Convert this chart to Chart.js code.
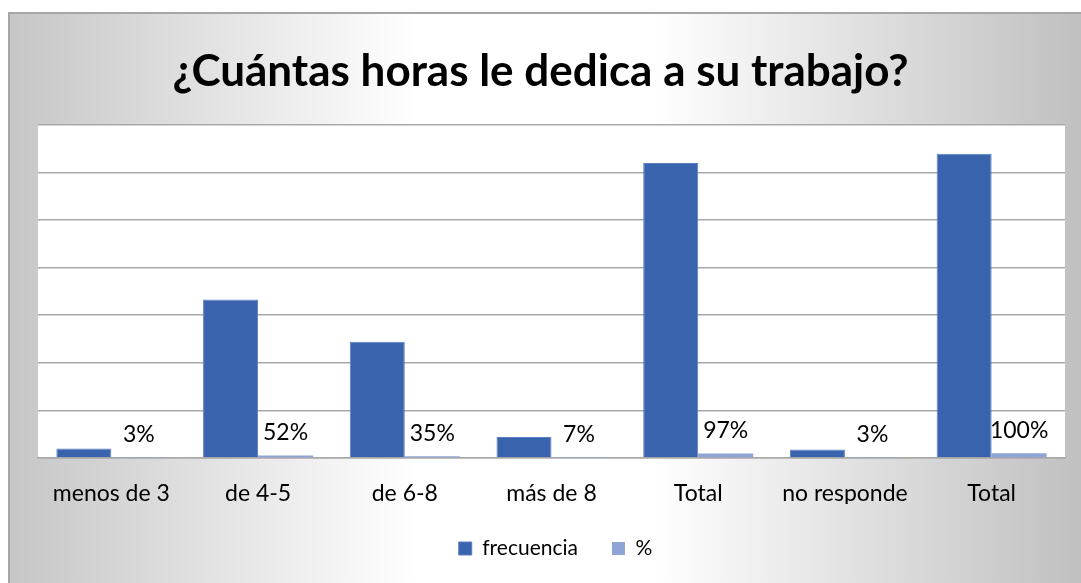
<!DOCTYPE html>
<html lang="es">
<head>
<meta charset="utf-8">
<title>¿Cuántas horas le dedica a su trabajo?</title>
<script src="https://cdn.jsdelivr.net/npm/chart.js@4.4.1/dist/chart.umd.min.js"></script>
<style>
    html, body { margin: 0; padding: 0; background: #ffffff; }
    #chart { display: block; }
</style>
</head>
<body>
<canvas id="chart" width="1081" height="583"></canvas>
<script>
// ── Data ──────────────────────────

const categories = ['menos de 3', 'de 4-5', 'de 6-8', 'más de 8', 'Total', 'no responde', 'Total'];
const frecuencia = [2, 33.3, 24.4, 4.4, 62, 1.8, 63.9];
const porcentaje = [0.03, 0.52, 0.35, 0.07, 0.97, 0.03, 1.00];
const yTicks = { min: 0, max: 70, step: 10 };

const FONT = 'Lato';
const BLUE = '#3A63AD';
const LIGHT_BLUE = '#8FA3D6';
const GRID = '#a9a9a9';

function formatPercent(v) {
    return Math.round(v * 100) + '%';
}

// Gray frame + white plot area, like the Excel chart
const backgroundPlugin = {
    id: 'background',
    afterLayout(chart) {
        // nudge legend a bit right (Excel centers it off the plot area)
        chart.legend.left += 15;
        chart.legend.right += 15;
    },
    beforeDraw(chart) {
        const { ctx, chartArea, width, height } = chart;
        ctx.save();
        const g = ctx.createLinearGradient(8, 0, width, 0);
        g.addColorStop(0, '#c6c6c6');
        g.addColorStop(0.38, '#ffffff');
        g.addColorStop(0.6, '#ffffff');
        g.addColorStop(1, '#c0c0c0');
        ctx.fillStyle = g;
        ctx.fillRect(8, 12, width - 8, height - 12);
        ctx.strokeStyle = '#a6a6a6';
        ctx.lineWidth = 2;
        ctx.beginPath();
        ctx.moveTo(width, 13);
        ctx.lineTo(9, 13);
        ctx.lineTo(9, height);
        ctx.stroke();
        ctx.fillStyle = '#ffffff';
        ctx.fillRect(chartArea.left, chartArea.top, chartArea.right - chartArea.left, chartArea.bottom - chartArea.top);
        ctx.restore();
    }
};

// Percent labels above the (tiny) % bars
const percentLabels = {
    id: 'percentLabels',
    afterDatasetsDraw(chart) {
        const { ctx } = chart;
        const meta = chart.getDatasetMeta(1);
        ctx.save();
        ctx.font = `23px ${FONT}`;
        ctx.fillStyle = '#000000';
        ctx.textAlign = 'center';
        ctx.textBaseline = 'middle';
        meta.data.forEach((bar, i) => {
            ctx.fillText(formatPercent(porcentaje[i]), bar.x, bar.y - 23);
        });
        ctx.restore();
    }
};

new Chart(document.getElementById('chart').getContext('2d'), {
    type: 'bar',
    data: {
        labels: categories,
        datasets: [
            {
                label: 'frecuencia',
                data: frecuencia,
                backgroundColor: BLUE,
                borderColor: '#5A7FC2',
                borderWidth: 1,
                categoryPercentage: 0.75,
                barPercentage: 1.0
            },
            {
                label: '%',
                data: porcentaje,
                backgroundColor: LIGHT_BLUE,
                borderWidth: 0,
                categoryPercentage: 0.75,
                barPercentage: 1.0
            }
        ]
    },
    options: {
        responsive: false,
        animation: false,
        layout: { padding: { left: 16, right: 16, top: 0, bottom: 14 } },
        plugins: {
            title: {
                display: true,
                text: '¿Cuántas horas le dedica a su trabajo?',
                color: '#000000',
                font: { family: FONT, size: 44, weight: 'bold' },
                padding: { top: 45, bottom: 27 }
            },
            legend: {
                position: 'bottom',
                labels: {
                    color: '#000000',
                    boxWidth: 13,
                    boxHeight: 13,
                    padding: 34,
                    font: { family: FONT, size: 21 }
                }
            },
            tooltip: { enabled: false }
        },
        scales: {
            x: {
                grid: { display: false },
                border: { display: true, color: GRID, width: 1.5 },
                ticks: { color: '#000000', padding: 14, font: { family: FONT, size: 23 } },
                afterFit: s => { s.height = 46; }
            },
            y: {
                min: yTicks.min,
                max: yTicks.max,
                ticks: { display: false, stepSize: yTicks.step },
                grid: { color: GRID, lineWidth: 1.5, drawTicks: false },
                border: { display: false },
                afterFit: s => { s.width = 22; }
            }
        }
    },
    plugins: [backgroundPlugin, percentLabels]
});
</script>
</body>
</html>
